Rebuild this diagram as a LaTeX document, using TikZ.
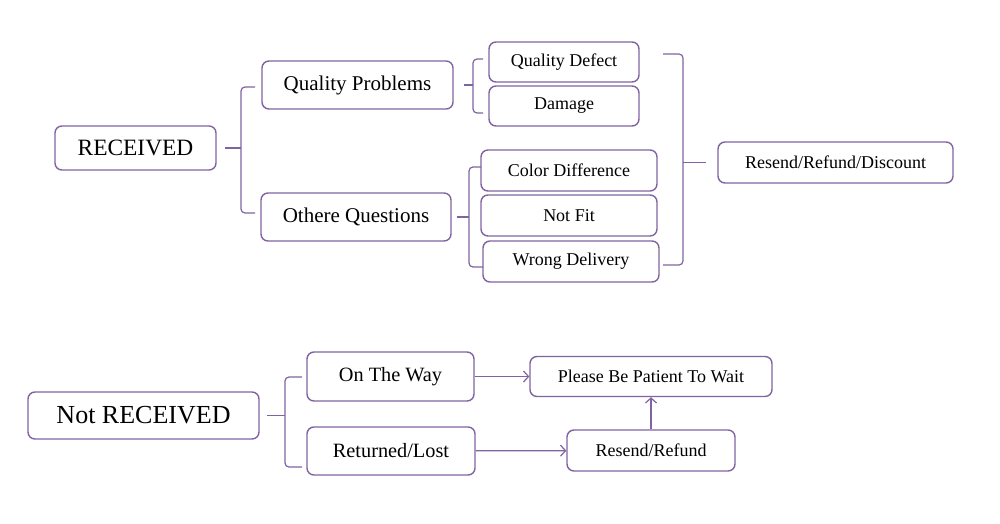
\documentclass[tikz,border=0pt]{standalone}
\usepackage{fontspec}
\setmainfont{Liberation Serif}
\usetikzlibrary{arrows.meta}

\definecolor{boxline}{RGB}{128,100,162}

\begin{document}
\begin{tikzpicture}[x=1pt, y=-1pt, >={Straight Barb[length=5pt,width=11pt]},
  box/.style={draw=boxline, line width=1.4pt, rounded corners=7pt, fill=white, inner sep=0pt},
  link/.style={draw=boxline, line width=1.2pt},
  big/.style={font=\fontsize{23.4}{26}\selectfont},
  mid/.style={font=\fontsize{21}{24}\selectfont},
  small/.style={font=\fontsize{18}{21}\selectfont}]
  \useasboundingbox[fill=white] (0,0) rectangle (1000,524);
  % received branch
  \node[box, big, minimum width=161, minimum height=44] (recv) at (135.5,148) {RECEIVED};
  \node[box, mid, minimum width=191, minimum height=48] (qp) at (357.5,85) {Quality Problems};
  \node[box, mid, minimum width=190, minimum height=48] (oq) at (356,217) {Othere Questions};
  \node[box, small, minimum width=150, minimum height=40] (qd) at (564,62) {Quality Defect};
  \node[box, small, minimum width=150, minimum height=40] (dmg) at (564,106) {Damage};
  \node[box, small, minimum width=176, minimum height=41] (cd) at (569,170.5) {Color Difference};
  \node[box, small, minimum width=176, minimum height=41] (nf) at (569,215.5) {Not Fit};
  \node[box, small, minimum width=176, minimum height=41] (wd) at (571,261.5) {Wrong Delivery};
  \node[box, small, minimum width=235, minimum height=41] (rrd) at (835.5,162.5) {Resend/Refund/Discount};
  % brace points
  \coordinate (b1) at (241,148);
  \coordinate (b1t) at (255,87);
  \coordinate (b1b) at (255,213);
  \coordinate (b2) at (473,85);
  \coordinate (b2t) at (483,59);
  \coordinate (b2b) at (483,113);
  \coordinate (b3) at (469,217);
  \coordinate (b3t) at (481,167);
  \coordinate (b3b) at (483,267);
  \coordinate (b5) at (683,162.5);
  \coordinate (b5t) at (663,54);
  \coordinate (b5b) at (663,265);
  % braces
  \draw[link, rounded corners=4pt] (b1t) -| (b1) |- (b1b);
  \draw[link] ([xshift=8]recv.east) -- (b1);
  \draw[link, rounded corners=4pt] (b2t) -| (b2) |- (b2b);
  \draw[link] ([xshift=10]qp.east) -- (b2);
  \draw[link, rounded corners=4pt] (b3t) -| (b3) |- (b3b);
  \draw[link] ([xshift=5]oq.east) -- (b3);
  \draw[link, rounded corners=4pt] (b5t) -| (b5) |- (b5b);
  \draw[link] (b5) -- ([xshift=-11]rrd.west);
  % not received branch
  \node[box, font=\fontsize{26}{29}\selectfont, minimum width=231, minimum height=47] (nrecv) at (143.5,415.5) {Not RECEIVED};
  \node[box, font=\fontsize{20.3}{23}\selectfont, minimum width=167, minimum height=49] (otw) at (390.5,376.5) {On The Way};
  \node[box, font=\fontsize{20.3}{23}\selectfont, minimum width=168, minimum height=48] (rl) at (391,451) {Returned/Lost};
  \node[box, small, minimum width=242, minimum height=40] (wait) at (651,376.5) {Please Be Patient To Wait};
  \node[box, small, minimum width=168, minimum height=41] (rr) at (651,450.5) {Resend/Refund};
  \coordinate (b4) at (285,415.5);
  \coordinate (b4t) at (302,377);
  \coordinate (b4b) at (302,467);
  \draw[link, rounded corners=4pt] (b4t) -| (b4) |- (b4b);
  \draw[link] ([xshift=7]nrecv.east) -- (b4);
  % arrows
  \draw[link, ->] (otw) -- (wait);
  \draw[link, ->] (rl) -- (rr);
  \draw[link, ->] (rr) -- (wait);
\end{tikzpicture}
\end{document}
